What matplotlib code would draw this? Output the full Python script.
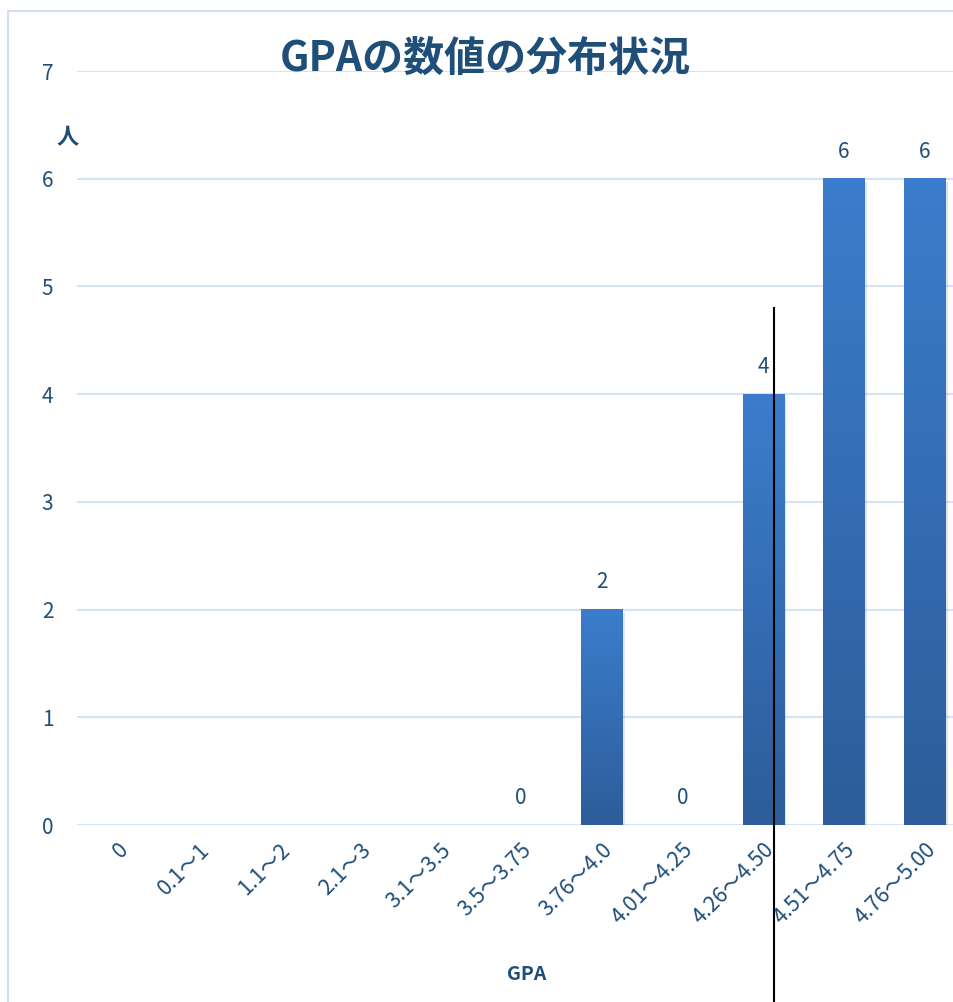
import numpy as np
import matplotlib
matplotlib.use("Agg")
import matplotlib.pyplot as plt
from matplotlib.patches import Rectangle
from matplotlib.colors import LinearSegmentedColormap

plt.rcParams['font.family'] = ['Noto Sans CJK JP', 'DejaVu Sans']

# data
categories = ["0", "0.1～1", "1.1～2", "2.1～3", "3.1～3.5", "3.5～3.75",
              "3.76～4.0", "4.01～4.25", "4.26～4.50", "4.51～4.75", "4.76～5.00"]
counts = [None, None, None, None, None, 0, 2, 0, 4, 6, 6]
y_ticks = [0, 1, 2, 3, 4, 5, 6, 7]

text_col = "#1f4e79"
grid_col = "#d6e3f4"
bar_cmap = LinearSegmentedColormap.from_list("bar", ["#2d5d9a", "#3b7dcc"])

fig = plt.figure(figsize=(9.54, 10.02), dpi=100)
ax = fig.add_axes([77/954, 177/1002, 888/954, 754/1002])

# outer chart border (partly cut off)
fig.patches.append(Rectangle((8/954, -0.1), 2, 0.1 + (1002-11)/1002,
                             transform=fig.transFigure, fill=False,
                             edgecolor="#d3e0f0", lw=1.5))

x = np.arange(len(categories))
width = 0.51
grad = np.linspace(0, 1, 256).reshape(-1, 1)
for xi, v in zip(x, counts):
    if v is None:
        continue
    if v > 0:
        # soft shadow
        ax.add_patch(Rectangle((xi - width/2 + 0.03, -0.03), width, v,
                               color="#000000", alpha=0.10, lw=0, zorder=2))
        ax.imshow(grad, cmap=bar_cmap, aspect="auto", origin="lower",
                  extent=(xi - width/2, xi + width/2, 0, v), zorder=3)
    ax.text(xi, v + 0.15, str(v), ha="center", va="bottom",
            fontsize=15, color=text_col, zorder=4)

ax.set_xlim(-0.5, 10.5)
ax.set_ylim(0, 7)
ax.set_yticks(y_ticks)
ax.set_yticklabels([str(t) for t in y_ticks], fontsize=15, color=text_col)
ax.set_xticks(x)
ax.set_xticklabels(categories, rotation=45, ha="right", va="top",
                   rotation_mode="anchor", fontsize=15.5, color=text_col)
ax.tick_params(axis="both", length=0)
ax.tick_params(axis="y", pad=17)
ax.tick_params(axis="x", pad=10)
ax.grid(axis="y", color=grid_col, lw=1.5, zorder=0)
ax.set_axisbelow(True)
for s in ax.spines.values():
    s.set_visible(False)

fig.text(485/954, 1 - 59/1002, "GPAの数値の分布状況", ha="center", va="center",
         fontsize=29.5, fontweight="bold", color=text_col)
fig.text(68/954, 1 - 138/1002, "人", ha="center", va="center",
         fontsize=16, fontweight="bold", color=text_col)
fig.text(527/954, 1 - 975/1002, "GPA", ha="center", va="center",
         fontsize=14, fontweight="bold", color=text_col)

# hand-drawn black marker line
ax.plot([8.14, 8.14], [4.8, -1.7], color="black", lw=1.5, clip_on=False, zorder=5)

fig.savefig("out.png", dpi=100)
